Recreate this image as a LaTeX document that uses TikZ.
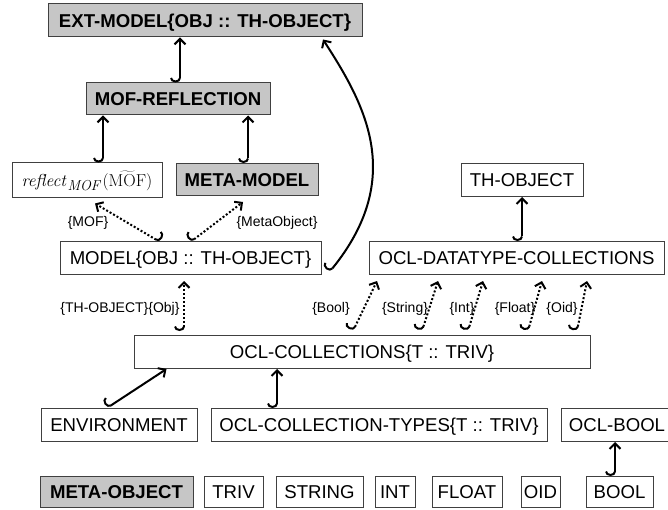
\documentclass[tikz,border=0pt]{standalone}
\usepackage[no-math]{fontspec}
\setmainfont{Liberation Sans}
\usetikzlibrary{arrows.meta,calc}

\begin{document}
\begin{tikzpicture}[x=1pt,y=-1pt,
  box/.style={draw=black!75, line width=1pt, fill=white, inner sep=0pt,
    minimum height=33pt, text height=13.3pt, text depth=0pt,
    font=\fontsize{18.6}{20}\selectfont},
  graybox/.style={box, fill=gray!45, font=\fontsize{18.6}{20}\selectfont\bfseries},
  lowbox/.style={box, minimum height=31pt},
  lbl/.style={font=\fontsize{14}{16}\selectfont, inner sep=0pt},
  incl/.style={line width=2pt,
    {Hooks[right,length=4.5pt,width=20pt]}-{Straight Barb[length=5.5pt,width=11pt]}},
  inclr/.style={line width=2pt,
    {Hooks[left,length=4.5pt,width=20pt]}-{Straight Barb[length=5.5pt,width=11pt]}},
  view/.style={incl, dash pattern=on 2pt off 2pt},
  viewr/.style={inclr, dash pattern=on 2pt off 2pt},
]
\useasboundingbox (0,0) rectangle (668,510);

% modules
\node[graybox, minimum width=314pt] (ext) at (205,20.5) {EXT-MODEL\{OBJ :: TH-OBJECT\}};
\node[graybox, minimum width=184pt, minimum height=32pt] (mofr) at (178,99) {MOF-REFLECTION};
\node[box, minimum width=150pt, minimum height=35pt, text height=15.5pt, text depth=4pt] (refl) at (87,180.5)
  {\fontsize{19}{21}\selectfont$\mathit{reflect}_{\mathit{MOF}}(\widetilde{\mathrm{MOF}})$};
\node[graybox, minimum width=142pt, minimum height=32pt] (meta) at (247,179.5) {META-MODEL};
\node[box, minimum width=122pt] (thobj) at (522,180) {TH-OBJECT};
\node[box, minimum width=261pt] (model) at (190.5,258) {MODEL\{OBJ :: TH-OBJECT\}};
\node[box, minimum width=295pt] (dtc) at (516.5,258) {OCL-DATATYPE-COLLECTIONS};
\node[box, minimum width=456pt] (ocl) at (362,352) {OCL-COLLECTIONS\{T :: TRIV\}};
\node[box, minimum width=156pt] (env) at (119,425) {ENVIRONMENT};
\node[box, minimum width=336pt] (oclct) at (379,425) {OCL-COLLECTION-TYPES\{T :: TRIV\}};
\node[box, minimum width=112pt] (oclbool) at (617,425) {OCL-BOOL};

\node[graybox, minimum height=31pt, minimum width=153pt] (metaobj) at (116.5,492) {META-OBJECT};
\node[lowbox, minimum width=59pt] (triv) at (233.5,492) {TRIV};
\node[lowbox, minimum width=87pt] (string) at (319.5,492) {STRING};
\node[lowbox, minimum width=40pt] (int) at (395,492) {INT};
\node[lowbox, minimum width=70pt] (float) at (467,492) {FLOAT};
\node[lowbox, minimum width=39pt] (oid) at (540.5,492) {OID};
\node[lowbox, minimum width=67pt] (bool) at (619.5,492) {BOOL};

% protecting imports
\draw[incl] ([xshift=2pt]mofr.north) -- ([xshift=2pt]mofr.north |- ext.south);
\draw[incl] ([xshift=16pt]refl.north) -- ([xshift=16pt]refl.north |- mofr.south);
\draw[incl] ([xshift=1pt]meta.north) -- ([xshift=1pt]meta.north |- mofr.south);
\draw[incl] (thobj.south |- dtc.north) -- (thobj.south);
\draw[incl] ([xshift=-102pt]oclct.north) -- ([xshift=-102pt]oclct.north |- ocl.south);
\draw[incl] ([xshift=-12pt]env.north) -- ([xshift=33pt]ocl.south west);
\draw[incl] ([xshift=-4.5pt]bool.north) -- ([xshift=-4.5pt]bool.north |- oclbool.south);
\draw[incl] ([xshift=8pt,yshift=3pt]model.south east)
  .. controls ($(model.south east)+(84,-97)$) and ($(model.south east)+(44,-170)$)
  .. ([xshift=118pt,yshift=-2pt]ext.south);

% views
\draw[viewr] ([xshift=-30.5pt,yshift=-1pt]model.north) -- ([xshift=8pt,yshift=-5pt]refl.south);
\node[lbl] (lmof) at (88,223) {\{MOF\}};
\draw[view] ([yshift=-1pt]model.north) -- ([xshift=-4pt,yshift=-6pt]meta.south);
\node[lbl] (lmeta) at (277,223) {\{MetaObject\}};

\draw[view] ([xshift=-178pt,yshift=4pt]ocl.north) -- ([xshift=-6.5pt,yshift=-6pt]model.south);
\node[lbl] (lobj) at (120,309) {\{TH-OBJECT\}\{Obj\}};

\draw[view] ([xshift=-9pt,yshift=4pt]ocl.north) -- ([xshift=-139.5pt,yshift=-6pt]dtc.south);
\node[lbl] (lbool) at (331,309) {\{Bool\}};
\draw[view] ([xshift=60pt,yshift=4pt]ocl.north) -- ([xshift=-78.5pt,yshift=-6pt]dtc.south);
\node[lbl] (lstring) at (405,309) {\{String\}};
\draw[view] ([xshift=106pt,yshift=4pt]ocl.north) -- ([xshift=-33.5pt,yshift=-6pt]dtc.south);
\node[lbl] (lint) at (462,309) {\{Int\}};
\draw[view] ([xshift=166pt,yshift=4pt]ocl.north) -- ([xshift=25.5pt,yshift=-6pt]dtc.south);
\node[lbl] (lfloat) at (515,309) {\{Float\}};
\draw[view] ([xshift=215pt,yshift=4pt]ocl.north) -- ([xshift=70.5pt,yshift=-6pt]dtc.south);
\node[lbl] (loid) at (562,309) {\{Oid\}};
\end{tikzpicture}
\end{document}
